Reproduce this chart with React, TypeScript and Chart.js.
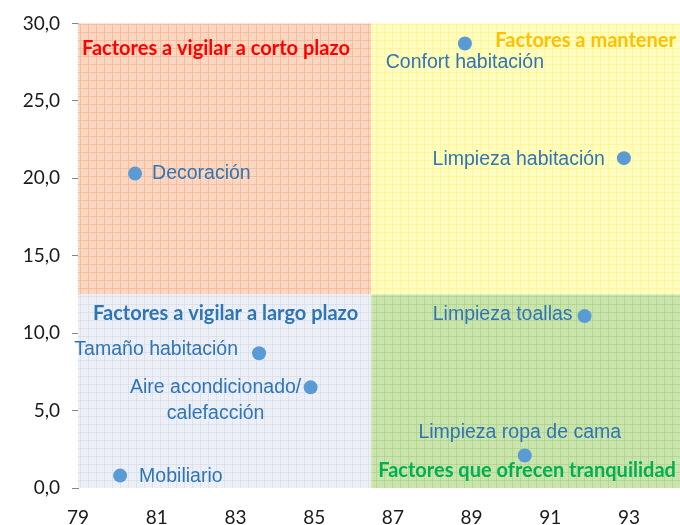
import React, { useEffect, useRef } from "react";
import { Chart, registerables } from "chart.js";
Chart.register(...registerables);

// ---- data ----
const FACTORS = [
  "Decoración",
  "Confort habitación",
  "Limpieza habitación",
  "Limpieza toallas",
  "Limpieza ropa de cama",
  "Tamaño habitación",
  "Aire acondicionado/\ncalefacción",
  "Mobiliario",
];
const SATISFACTION = [80.45, 88.83, 92.87, 91.87, 90.35, 83.6, 84.91, 80.07];
const IMPORTANCE = [20.3, 28.7, 21.3, 11.1, 2.1, 8.7, 6.5, 0.8];
const X_TICKS = [79, 81, 83, 85, 87, 89, 91, 93];
const Y_TICKS = [0, 5, 10, 15, 20, 25, 30];
const X_SPLIT = 86.45;
const Y_SPLIT = 12.5;
const QUADRANT_TITLES = [
  "Factores a vigilar a corto plazo",
  "Factores a mantener",
  "Factores a vigilar a largo plazo",
  "Factores que ofrecen tranquilidad",
];

// ---- styles / layout ----
const X_MIN = 79;
const X_MAX = 94.32;
const Y_MIN = 0;
const Y_MAX = 30;

const LABEL_PLACEMENT = [
  { align: "left", dx: 17, dy: 0 },
  { align: "center", dx: 0, dy: 19 },
  { align: "right", dx: -19, dy: 1 },
  { align: "right", dx: -12, dy: -1 },
  { align: "center", dx: -5, dy: -23 },
  { align: "right", dx: -21, dy: -4 },
  { align: "center", dx: -95, dy: 0 },
  { align: "left", dx: 19, dy: 1 },
];
const TITLE_STYLE = [
  { x: 79.1, y: 28.4, align: "left", color: "#FF0000" },
  { x: 94.19, y: 28.9, align: "right", color: "#FFC000" },
  { x: 82.75, y: 11.28, align: "center", color: "#2E75B6" },
  { x: 94.19, y: 1.1, align: "right", color: "#00B050" },
];
const QUAD_COLORS = {
  tl: ["#FBD8C3", "#F5B48C"],
  tr: ["#FFFDC2", "#FFF48A"],
  bl: ["#EDF0F6", "#D6DDE8"],
  br: ["#CCE5AE", "#A9D28A"],
};

function makePattern(ctx: CanvasRenderingContext2D, base: string, line: string) {
  const c = document.createElement("canvas");
  c.width = 8;
  c.height = 8;
  const t = c.getContext("2d")!;
  t.fillStyle = base;
  t.fillRect(0, 0, 8, 8);
  t.fillStyle = line;
  t.globalAlpha = 0.75;
  t.fillRect(0, 0, 8, 1);
  t.fillRect(0, 0, 1, 8);
  t.globalAlpha = 0.3;
  for (let i = 2; i < 8; i += 2) {
    for (let j = 2; j < 8; j += 2) {
      if ((i + j) % 4 === 0) t.fillRect(i, j, 1, 1);
    }
  }
  return ctx.createPattern(c, "repeat")!;
}

const quadrantPlugin = {
  id: "quadrants",
  beforeDatasetsDraw(chart: any) {
    const { ctx, scales } = chart;
    const xs = scales.x;
    const ys = scales.y;
    const l = xs.getPixelForValue(X_MIN);
    const r = xs.getPixelForValue(X_MAX);
    const m = xs.getPixelForValue(X_SPLIT);
    const t = ys.getPixelForValue(Y_MAX);
    const b = ys.getPixelForValue(Y_MIN);
    const my = ys.getPixelForValue(Y_SPLIT);
    ctx.save();
    const rects: [string, number, number, number, number][] = [
      ["tl", l, t, m - l, my - t],
      ["tr", m, t, r - m, my - t],
      ["bl", l, my, m - l, b - my],
      ["br", m, my, r - m, b - my],
    ];
    for (const [k, x, y, w, h] of rects) {
      const [base, line] = (QUAD_COLORS as any)[k];
      ctx.fillStyle = makePattern(ctx, base, line);
      ctx.fillRect(x, y, w, h);
    }
    // quadrant titles
    ctx.font = "bold 20px Lato, 'Liberation Sans', sans-serif";
    ctx.textBaseline = "middle";
    QUADRANT_TITLES.forEach((txt, i) => {
      const s = TITLE_STYLE[i];
      ctx.fillStyle = s.color;
      ctx.textAlign = s.align as CanvasTextAlign;
      ctx.fillText(txt, xs.getPixelForValue(s.x), ys.getPixelForValue(s.y));
    });
    ctx.restore();
  },
};

const labelPlugin = {
  id: "pointLabels",
  afterDatasetsDraw(chart: any) {
    const { ctx } = chart;
    const meta = chart.getDatasetMeta(0);
    ctx.save();
    ctx.font = "19.5px 'Liberation Sans', Arial, sans-serif";
    ctx.fillStyle = "#2F75B5";
    ctx.textBaseline = "middle";
    meta.data.forEach((pt: any, i: number) => {
      const p = LABEL_PLACEMENT[i];
      ctx.textAlign = p.align as CanvasTextAlign;
      const lines = FACTORS[i].split("\n");
      lines.forEach((ln, k) => {
        ctx.fillText(ln, pt.x + p.dx, pt.y + p.dy + k * 26);
      });
    });
    ctx.restore();
  },
};

export default function App() {
  const ref = useRef<HTMLCanvasElement>(null);
  useEffect(() => {
    document.body.style.margin = "0";
    const chart = new Chart(ref.current!, {
      type: "scatter",
      data: {
        datasets: [
          {
            data: SATISFACTION.map((x, i) => ({ x, y: IMPORTANCE[i] })),
            backgroundColor: "#5B9BD5",
            borderWidth: 0,
            pointRadius: 7,
            pointHoverRadius: 7,
          },
        ],
      },
      options: {
        responsive: false,
        animation: false,
        layout: { padding: { top: 20, right: 0, left: 0, bottom: 0 } },
        plugins: { legend: { display: false }, tooltip: { enabled: false } },
        scales: {
          x: {
            type: "linear",
            min: X_MIN,
            max: X_MAX,
            afterBuildTicks: (s: any) => {
              s.ticks = X_TICKS.map((v) => ({ value: v }));
            },
            afterFit: (s: any) => {
              s.height = 37;
            },
            grid: { display: false },
            border: { display: false },
            ticks: {
              color: "#1a1a1a",
              font: { family: "Lato", size: 19 },
              padding: 10,
              maxRotation: 0,
              autoSkip: false,
              callback: (v: any) => String(v),
            },
          },
          y: {
            type: "linear",
            min: Y_MIN,
            max: Y_MAX,
            afterBuildTicks: (s: any) => {
              s.ticks = Y_TICKS.map((v) => ({ value: v }));
            },
            afterFit: (s: any) => {
              s.width = 78;
            },
            grid: {
              drawOnChartArea: false,
              drawTicks: true,
              tickLength: 6,
              color: "#868686",
            },
            border: { display: true, color: "#868686", width: 1 },
            ticks: {
              color: "#1a1a1a",
              font: { family: "Lato", size: 19 },
              padding: 12,
              autoSkip: false,
              callback: (v: any) => Number(v).toFixed(1).replace(".", ","),
            },
          },
        },
      },
      plugins: [quadrantPlugin, labelPlugin],
    });
    return () => chart.destroy();
  }, []);
  return (
    <div style={{ width: 680, height: 525, overflow: "hidden" }}>
      <canvas ref={ref} width={688} height={525} />
    </div>
  );
}
